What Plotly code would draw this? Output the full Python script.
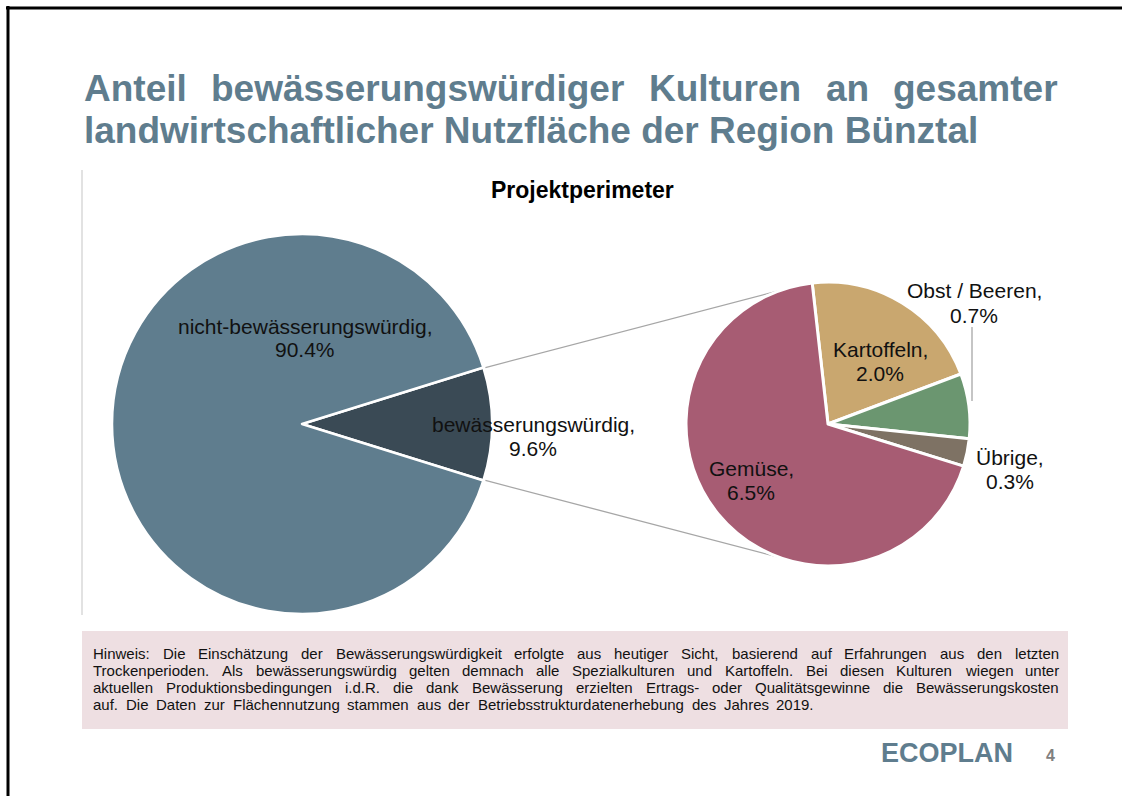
import math
import plotly.graph_objects as go

W, H = 1122, 796

# ---------------- data ----------------
main_labels = ["bewässerungswürdig", "nicht-bewässerungswürdig"]
main_values = [9.6, 90.4]

sub_labels = ["Kartoffeln", "Obst / Beeren", "Übrige", "Gemüse"]
sub_values = [2.0, 0.7, 0.3, 6.5]

title_lines = [
    "Anteil bewässerungswürdiger Kulturen an gesamter",
    "landwirtschaftlicher Nutzfläche der Region Bünztal",
]
chart_title = "Projektperimeter"
note_lines = [
    "Hinweis: Die Einschätzung der Bewässerungswürdigkeit erfolgte aus heutiger Sicht, basierend auf Erfahrungen aus den letzten",
    "Trockenperioden. Als bewässerungswürdig gelten demnach alle Spezialkulturen und Kartoffeln. Bei diesen Kulturen wiegen unter",
    "aktuellen Produktionsbedingungen i.d.R. die dank Bewässerung erzielten Ertrags- oder Qualitätsgewinne die Bewässerungskosten",
    "auf. Die Daten zur Flächennutzung stammen aus der Betriebsstrukturdatenerhebung des Jahres 2019.",
]
brand = "ECOPLAN"
page_no = "4"

# ---------------- styles ----------------
main_colors = ["#3a4a55", "#5f7d8e"]
sub_colors = ["#c9a76f", "#6b9670", "#7e7264", "#a75c73"]
TITLE_COLOR = "#5f7d8e"
FONT = "Liberation Sans, Arial, sans-serif"

def px(x):
    return x / W

def py(y):
    return 1 - y / H

# Arial / Liberation Sans advance widths (1/1000 em)
REG = {' ': 278, '!': 278, ',': 278, '-': 333, '.': 278, '/': 278, ':': 278, '%': 889,
       '(': 333, ')': 333,
       'A': 667, 'B': 667, 'C': 722, 'D': 722, 'E': 667, 'F': 611, 'G': 778, 'H': 722, 'I': 278,
       'J': 500, 'K': 667, 'L': 556, 'M': 833, 'N': 722, 'O': 778, 'P': 667, 'Q': 778, 'R': 722,
       'S': 667, 'T': 611, 'U': 722, 'V': 667, 'W': 944, 'X': 667, 'Y': 667, 'Z': 611,
       'a': 556, 'b': 556, 'c': 500, 'd': 556, 'e': 556, 'f': 278, 'g': 556, 'h': 556, 'i': 222,
       'j': 222, 'k': 500, 'l': 222, 'm': 833, 'n': 556, 'o': 556, 'p': 556, 'q': 556, 'r': 333,
       's': 500, 't': 278, 'u': 556, 'v': 500, 'w': 722, 'x': 500, 'y': 500, 'z': 500,
       'ä': 556, 'ö': 556, 'ü': 556, 'Ä': 667, 'Ö': 778, 'Ü': 722}
BOLD = {' ': 278, ',': 278, '.': 278, '-': 333, ':': 333, '/': 278, '%': 889,
        'A': 722, 'B': 722, 'C': 722, 'D': 722, 'E': 667, 'F': 611, 'G': 778, 'H': 722, 'I': 278,
        'J': 556, 'K': 722, 'L': 611, 'M': 833, 'N': 722, 'O': 778, 'P': 667, 'Q': 778, 'R': 722,
        'S': 667, 'T': 611, 'U': 722, 'V': 667, 'W': 944, 'X': 667, 'Y': 667, 'Z': 611,
        'a': 556, 'b': 611, 'c': 556, 'd': 611, 'e': 556, 'f': 333, 'g': 611, 'h': 611, 'i': 278,
        'j': 278, 'k': 556, 'l': 278, 'm': 889, 'n': 611, 'o': 611, 'p': 611, 'q': 611, 'r': 389,
        's': 556, 't': 333, 'u': 611, 'v': 556, 'w': 778, 'x': 556, 'y': 556, 'z': 500,
        'ä': 556, 'ö': 611, 'ü': 611}


def text_w(s, size, bold=False):
    tab = BOLD if bold else REG
    return sum(tab.get(c, 556) for c in s) * size / 1000.0


def justify(line, x0, width, size, bold=False):
    words = line.split(" ")
    ws = [text_w(w, size, bold) for w in words]
    gap = (width - sum(ws)) / (len(words) - 1) if len(words) > 1 else 0
    out, x = [], x0
    for w, wd in zip(words, ws):
        out.append((w, x))
        x += wd + gap
    return out


annotations = []


def add_text(text, x, y, size, color="#000000", bold=False, xanchor="center"):
    t = f"<b>{text}</b>" if bold else text
    annotations.append(dict(
        text=t, x=px(x), y=py(y), xref="paper", yref="paper",
        xanchor=xanchor, yanchor="middle", showarrow=False, borderpad=0,
        font=dict(family=FONT, size=size, color=color)))


# ---------------- pies ----------------
MC = (302, 424); MR = 190
SC = (828, 424); SR = 142

main_total = sum(main_values)
sub_total = sum(sub_values)
half = main_values[0] / main_total * 180.0  # half angle of the exploded slice

fig = go.Figure()
fig.add_trace(go.Pie(
    labels=main_labels, values=main_values, sort=False, direction="clockwise",
    rotation=90 - half, textinfo="none", hoverinfo="label+percent",
    marker=dict(colors=main_colors, line=dict(color="white", width=2.5)),
    domain=dict(x=[px(MC[0] - MR), px(MC[0] + MR)], y=[py(MC[1] + MR), py(MC[1] - MR)]),
))
fig.add_trace(go.Pie(
    labels=sub_labels, values=sub_values, sort=False, direction="clockwise",
    rotation=-6.4, textinfo="none", hoverinfo="label+value",
    marker=dict(colors=sub_colors, line=dict(color="white", width=3)),
    domain=dict(x=[px(SC[0] - SR), px(SC[0] + SR)], y=[py(SC[1] + SR), py(SC[1] - SR)]),
))

shapes = []
# connector lines from exploded slice edges to the secondary pie
ha = math.radians(half)
p_top = (MC[0] + MR * math.cos(ha), MC[1] - MR * math.sin(ha))
p_bot = (MC[0] + MR * math.cos(ha), MC[1] + MR * math.sin(ha))
ca = math.radians(20)
q_top = (SC[0] - SR * math.sin(ca), SC[1] - SR * math.cos(ca))
q_bot = (SC[0] - SR * math.sin(ca), SC[1] + SR * math.cos(ca))
for a, b in [(p_top, q_top), (p_bot, q_bot)]:
    shapes.append(dict(type="line", xref="paper", yref="paper",
                       x0=px(a[0] + 2), y0=py(a[1]), x1=px(b[0]), y1=py(b[1]),
                       line=dict(color="#a6a6a6", width=1.3), layer="below"))

# leader line for Obst / Beeren
shapes.append(dict(type="line", xref="paper", yref="paper",
                   x0=px(972), y0=py(327), x1=px(972), y1=py(401),
                   line=dict(color="#a6a6a6", width=1.3)))

# frame lines of the slide
shapes.append(dict(type="line", xref="paper", yref="paper", x0=px(6), y0=py(8), x1=1, y1=py(8),
                   line=dict(color="#000000", width=3)))
shapes.append(dict(type="line", xref="paper", yref="paper", x0=px(8), y0=py(6), x1=px(8), y1=0,
                   line=dict(color="#000000", width=3)))
# light vertical line at left of chart area
shapes.append(dict(type="line", xref="paper", yref="paper", x0=px(82), y0=py(170), x1=px(82), y1=py(615),
                   line=dict(color="#d9d9d9", width=1.5)))
# note box
shapes.append(dict(type="rect", xref="paper", yref="paper", x0=px(82), y0=py(729), x1=px(1068), y1=py(631),
                   fillcolor="#eedfe2", line=dict(width=0), layer="below"))

# ---------------- texts ----------------
# title (first line justified, second line left-aligned)
for w, x in justify(title_lines[0], 83, 974, 37, bold=True):
    add_text(w, x, 88, 37, TITLE_COLOR, bold=True, xanchor="left")
add_text(title_lines[1], 83, 130, 37, TITLE_COLOR, bold=True, xanchor="left")

add_text(chart_title, 582, 190, 23, "#000000", bold=True)

# slice labels (name line, value line)
label_pos = {
    "nicht-bewässerungswürdig": (305, 326),
    "bewässerungswürdig": (533, 424),
    "Kartoffeln": (880, 349),
    "Obst / Beeren": (974, 291),
    "Übrige": (1010, 457),
    "Gemüse": (751, 468),
}
for lab, val in list(zip(main_labels, main_values)) + list(zip(sub_labels, sub_values)):
    x, y = label_pos[lab]
    add_text(lab + ",", x, y, 21, "#111111")
    add_text(f"{val:.1f}%", x, y + 24, 21, "#111111")

# note (justified lines, last line measured width)
note_widths = [966, 966, 966, 721]
for i, (line, wd) in enumerate(zip(note_lines, note_widths)):
    for w, x in justify(line, 92, wd, 15):
        add_text(w, x, 653 + 17 * i, 15, "#111111", xanchor="left")

add_text(brand, 880, 753, 27, TITLE_COLOR, bold=True, xanchor="left")
add_text(page_no, 1050, 755, 16, "#808080", bold=True)

fig.update_layout(
    width=W, height=H, margin=dict(l=0, r=0, t=0, b=0),
    paper_bgcolor="white", plot_bgcolor="white", showlegend=False,
    shapes=shapes, annotations=annotations,
)

fig.write_html("out.html")
